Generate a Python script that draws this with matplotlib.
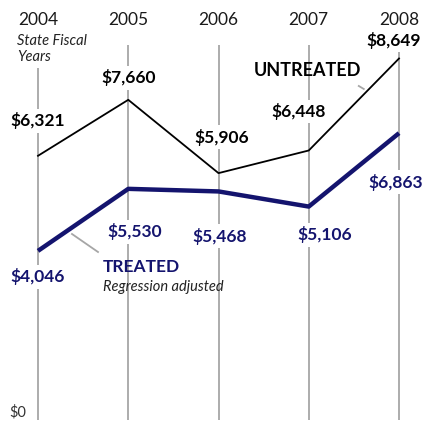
import matplotlib
matplotlib.use("Agg")
import matplotlib.pyplot as plt

plt.rcParams['font.family'] = ['Lato', 'DejaVu Sans']

years = [2004, 2005, 2006, 2007, 2008]
untreated = [6321, 7660, 5906, 6448, 8649]
treated = [4046, 5530, 5468, 5106, 6863]

NAVY = '#14146e'
GRID = '#a6a6a6'

# label offsets in pixels (dx, dy) relative to each point
unt_off = [(0, 35), (0, 22), (3, 36), (-10, 39), (-5, 18)]
trt_off = [(0, -26), (6, -43), (1, -45), (16, -28), (-3, -49)]

fig = plt.figure(figsize=(4.29, 4.23), dpi=100)
ax = fig.add_axes([0, 0, 1, 1])
ax.set_xlim(2003.579, 2008.332)
ax.set_ylim(-72, 10048)
ax.axis('off')

px = 0.72  # pixels -> points

# vertical year guides
ax.vlines(years, 0, 8970, color=GRID, lw=1.3, zorder=1)

ax.plot(years, untreated, color='black', lw=1.3, zorder=3)
ax.plot(years, treated, color=NAVY, lw=3.2, zorder=3, solid_capstyle='butt')

box = dict(facecolor='white', edgecolor='none', pad=2.5)

for yr in years:
    ax.annotate(str(yr), (yr, 10048), xytext=(0, -20 * px), textcoords='offset points',
                ha='center', va='center', fontsize=12.5, color='#1a1a1a')

for yr, v, (dx, dy) in zip(years, untreated, unt_off):
    ax.annotate(f'${v:,}', (yr, v), xytext=(dx * px, dy * px), textcoords='offset points',
                ha='center', va='center', fontsize=12.5, fontweight='bold',
                color='black', bbox=box, zorder=4)

for yr, v, (dx, dy) in zip(years, treated, trt_off):
    ax.annotate(f'${v:,}', (yr, v), xytext=(dx * px, dy * px), textcoords='offset points',
                ha='center', va='center', fontsize=12.5, fontweight='bold',
                color=NAVY, bbox=box, zorder=4)

# axis note and $0
ax.annotate('State Fiscal\nYears', (years[0], 10048), xytext=(-21 * px, -49 * px),
            textcoords='offset points', ha='left', va='center', fontsize=10.5,
            style='italic', color='#222222', linespacing=1.25, bbox=box, zorder=4)
ax.annotate('$0', (years[0], 0), xytext=(-20 * px, 8 * px), textcoords='offset points',
            ha='center', va='center', fontsize=10.5, color='#333333')

# series labels with leader lines
ax.annotate('UNTREATED', (years[3], untreated[3]), xytext=(-1 * px, 80 * px),
            textcoords='offset points', ha='center', va='center', fontsize=13,
            fontweight='bold', color='black', zorder=4)
ax.plot([years[3] + 50 / 90.25, years[3] + 55 / 90.25],
        [untreated[3] + (150.5 - 86) / 0.0418, untreated[3] + (150.5 - 89) / 0.0418],
        color=GRID, lw=1.3, zorder=2)

ax.annotate('TREATED', (years[1], treated[1]), xytext=(13 * px, -78 * px),
            textcoords='offset points', ha='center', va='center', fontsize=12.5,
            fontweight='bold', color=NAVY, zorder=4)
ax.annotate('Regression adjusted', (years[1], treated[1]), xytext=(-25 * px, -98 * px),
            textcoords='offset points', ha='left', va='center', fontsize=10.5,
            style='italic', color='#222222', zorder=4)
ax.plot([years[0] + 34 / 90.25, years[0] + 60 / 90.25],
        [(420 - 234) / 0.0418, (420 - 252) / 0.0418],
        color=GRID, lw=1.3, zorder=2)

fig.savefig('out.png', dpi=100)
